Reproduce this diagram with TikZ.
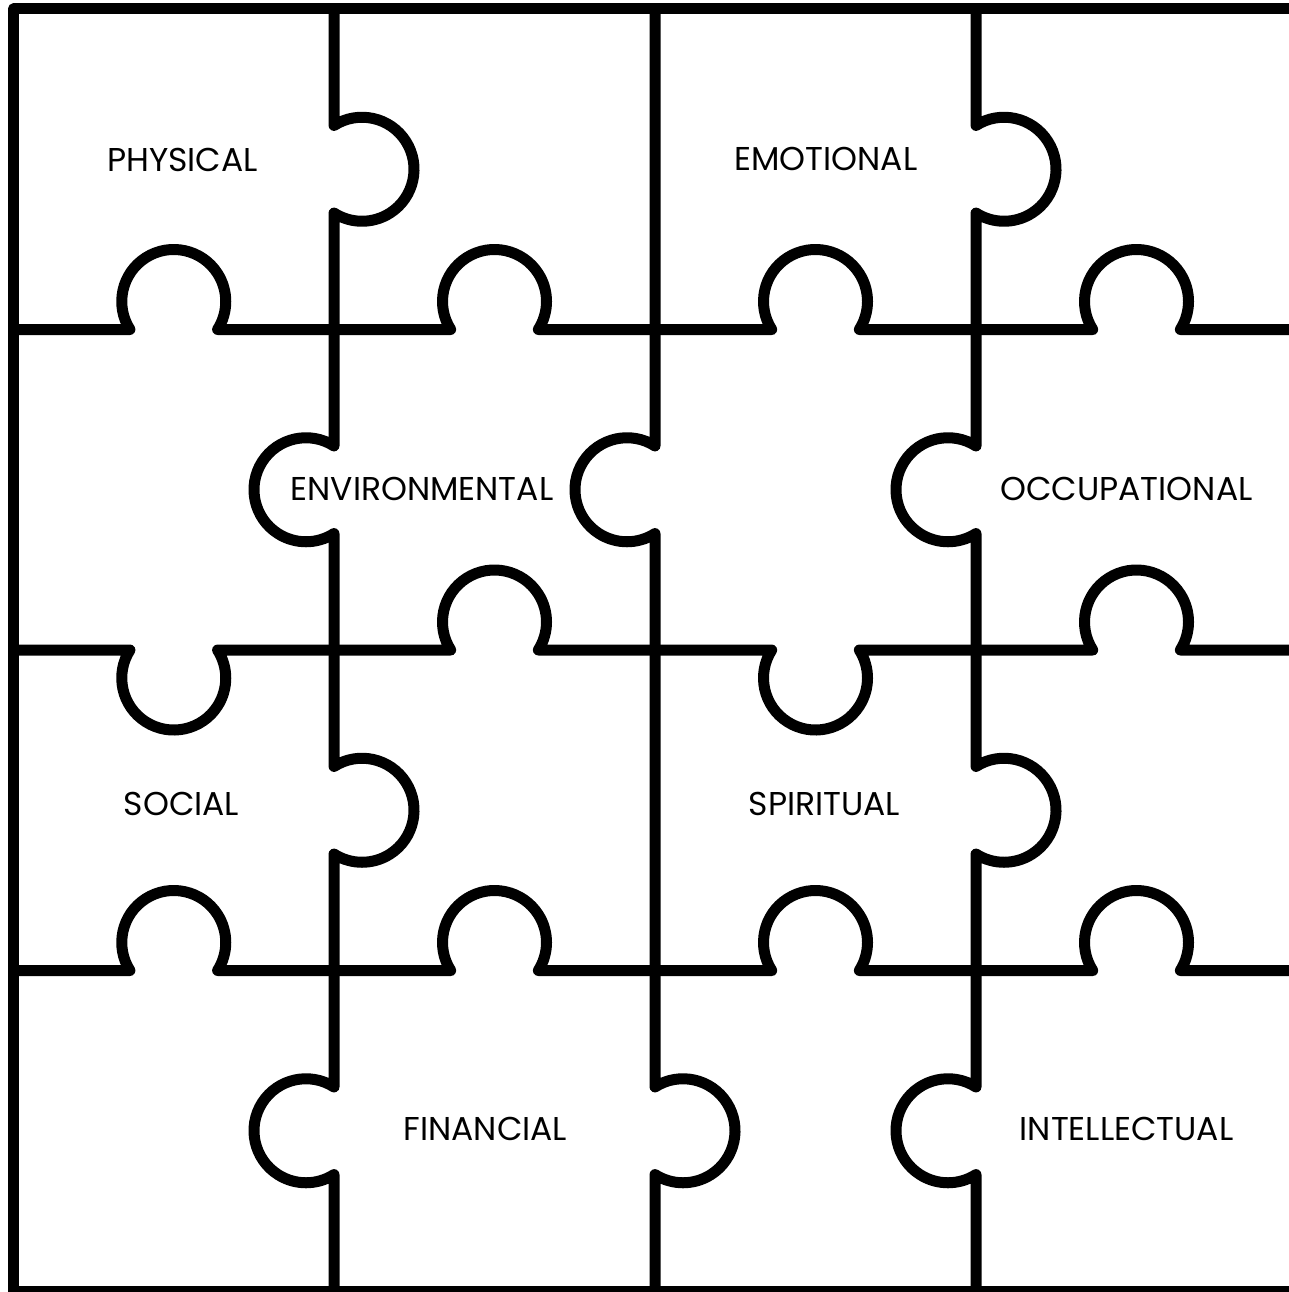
\documentclass[tikz,border=0pt]{standalone}
\usepackage{fontspec}
\setmainfont{Poppins}

\begin{document}
\begin{tikzpicture}[
    x=1pt, y=-1pt,
    every node/.style={align=center},
    cut/.style={line width=11pt, line join=round, line cap=round},
    word/.style={inner sep=0pt, font=\fontsize{33}{39}\selectfont},
    tabR/.style={insert path={arc[start angle=-122.6, end angle=122.6, radius=52]}},
    tabL/.style={insert path={arc[start angle=-57.4, end angle=-302.6, radius=52]}},
    tabU/.style={insert path={arc[start angle=147.4, end angle=392.6, radius=52]}},
    tabD/.style={insert path={arc[start angle=212.6, end angle=-32.6, radius=52]}}
]
\useasboundingbox (0,0) rectangle (1289,1292);

% Outer frame
\draw[cut] (13.5,9) rectangle (1297,1291);

% Vertical cuts
\draw[cut] (334,9) -- (334,125.45) [tabR] -- (334,445.95) [tabL] -- (334,766.45) [tabR] -- (334,1086.95) [tabL] -- (334,1291);
\draw[cut] (655,9) -- (655,445.95) [tabL] -- (655,1086.95) [tabR] -- (655,1291);
\draw[cut] (976,9) -- (976,125.45) [tabR] -- (976,445.95) [tabL] -- (976,766.45) [tabR] -- (976,1086.95) [tabL] -- (976,1291);

% Horizontal cuts
\draw[cut] (13.5,329.5) -- (129.95,329.5) [tabU] -- (450.7,329.5) [tabU] -- (771.7,329.5) [tabU] -- (1092.7,329.5) [tabU] -- (1297,329.5);
\draw[cut] (13.5,650) -- (129.95,650) [tabD] -- (450.7,650) [tabU] -- (771.7,650) [tabD] -- (1092.7,650) [tabU] -- (1297,650);
\draw[cut] (13.5,970.5) -- (129.95,970.5) [tabU] -- (450.7,970.5) [tabU] -- (771.7,970.5) [tabU] -- (1092.7,970.5) [tabU] -- (1297,970.5);

% Piece labels
\node[word] (physical) at (182.5,160) {PHYSICAL};
\node[word] (emotional) at (826,159) {EMOTIONAL};
\node[word] (environmental) at (422,489) {ENVIRONMENTAL};
\node[word] (occupational) at (1126.5,489) {OCCUPATIONAL};
\node[word] (social) at (181.5,804) {SOCIAL};
\node[word] (spiritual) at (824.5,804) {SPIRITUAL};
\node[word] (financial) at (485.5,1129) {FINANCIAL};
\node[word] (intellectual) at (1126.5,1129) {INTELLECTUAL};

\end{tikzpicture}
\end{document}
